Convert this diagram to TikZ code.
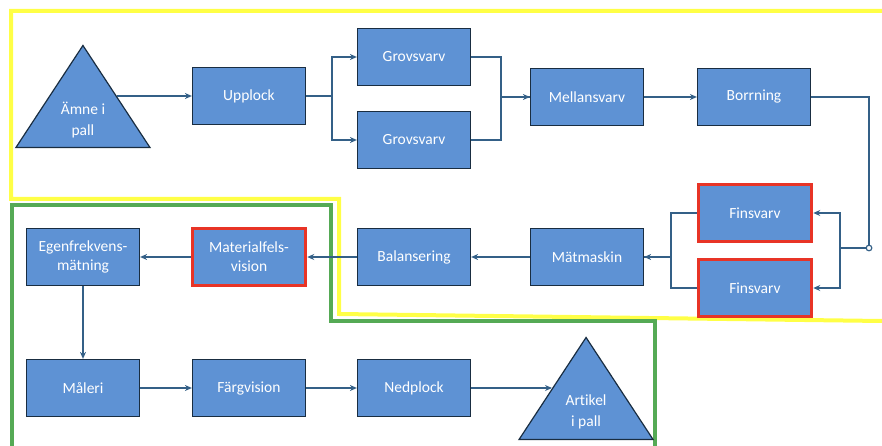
\documentclass[tikz,border=0pt]{standalone}
\usepackage{fontspec}
\setmainfont[Ligatures=NoCommon]{Carlito}
\usetikzlibrary{positioning,shapes.geometric,arrows.meta}
\definecolor{boxblue}{RGB}{94,146,212}
\definecolor{boxline}{RGB}{25,45,65}
\definecolor{flowline}{RGB}{52,96,135}
\definecolor{redmark}{RGB}{232,52,38}
\definecolor{yellowzone}{RGB}{255,255,70}
\definecolor{greenzone}{RGB}{85,170,85}
\tikzstyle{station}=[rectangle,fill=boxblue,draw=boxline,line width=1.2pt,minimum width=113pt,minimum height=57pt,text=white,align=center,font=\fontsize{15.5}{19}\selectfont,inner sep=2pt]
\tikzstyle{flagged}=[station,draw=redmark,line width=3.5pt]
\tikzstyle{pall}=[isosceles triangle,isosceles triangle stretches,shape border rotate=90,minimum width=134pt,minimum height=102pt,fill=boxblue,draw=boxline,line width=1.2pt,text=white,align=center,font=\fontsize{15.5}{21}\selectfont,inner sep=0pt,text height=34pt,text depth=0pt]
\tikzstyle{edge}=[draw,flowline,line width=1.6pt,-{Stealth[length=7pt,width=6pt]}]
\tikzstyle{link}=[draw,flowline,line width=1.6pt]

\begin{document}
\begin{tikzpicture}[x=1pt,y=-1pt]
  \useasboundingbox (0,0) rectangle (882,446);
  % zones
  \draw[yellowzone,line width=4pt] (882,11) -- (11,11) -- (11,199) -- (339,199) -- (339,314) -- (882,321);
  \draw[greenzone,line width=4pt] (12,446) -- (12,205) -- (331,205) -- (331,321) -- (655,321) -- (655,446);

  % stations
  \foreach \pos/\name/\label in {{(249,96)/upplock/Upplock}, {(414,57)/grovA/Grovsvarv}, {(414,140)/grovB/Grovsvarv}, {(587,97)/mellan/Mellansvarv}, {(754,97)/borrning/Borrning}, {(587,257)/matmaskin/Mätmaskin}, {(414,257)/balans/Balansering}, {(83,257)/egen/Egenfrekvens-\\mätning}, {(83,388)/maleri/Måleri}, {(249,388)/farg/Färgvision}, {(414,388)/nedplock/Nedplock}}
    \node[station] (\name) at \pos {\label};
  \foreach \pos/\name/\label in {{(755,213)/finA/Finsvarv}, {(755,288)/finB/Finsvarv}, {(249,257)/material/Materialfels-\\vision}}
    \node[flagged] (\name) at \pos {\label};
  \node[pall,anchor=right side] (amne) at (117,96) {Ämne i\\pall};
  \node[pall,anchor=left side] (artikel) at (552,388) {Artikel\\i pall};
  \coordinate (split) at (869,248);

  % flow
  \draw[edge] (amne.right side) -- (upplock);
  \draw[edge] (upplock.east) -- ++(26,0) |- (grovA);
  \draw[edge] (upplock.east) -- ++(26,0) |- (grovB);
  \draw[edge] (grovA.east) -- ++(30,0) |- (mellan);
  \draw[link] (grovB.east) -- ++(30,0) |- (mellan);
  \draw[edge] (mellan) -- (borrning);
  \draw[link] (borrning.east) -| (split);
  \draw[edge] (split) -- ++(-29,0) |- (finA);
  \draw[edge] (split) -- ++(-29,0) |- (finB);
  \draw[flowline,fill=white,line width=1.2pt] (split) circle (2.8);
  \draw[edge] (finA.west) -- ++(-26,0) |- (matmaskin);
  \draw[link] (finB.west) -- ++(-26,0) |- (matmaskin);
  \foreach \source/\dest in {matmaskin/balans, balans/material, material/egen, egen/maleri, maleri/farg, farg/nedplock}
    \draw[edge] (\source) -- (\dest);
  \draw[edge] (nedplock) -- (artikel.left side);
\end{tikzpicture}
\end{document}
